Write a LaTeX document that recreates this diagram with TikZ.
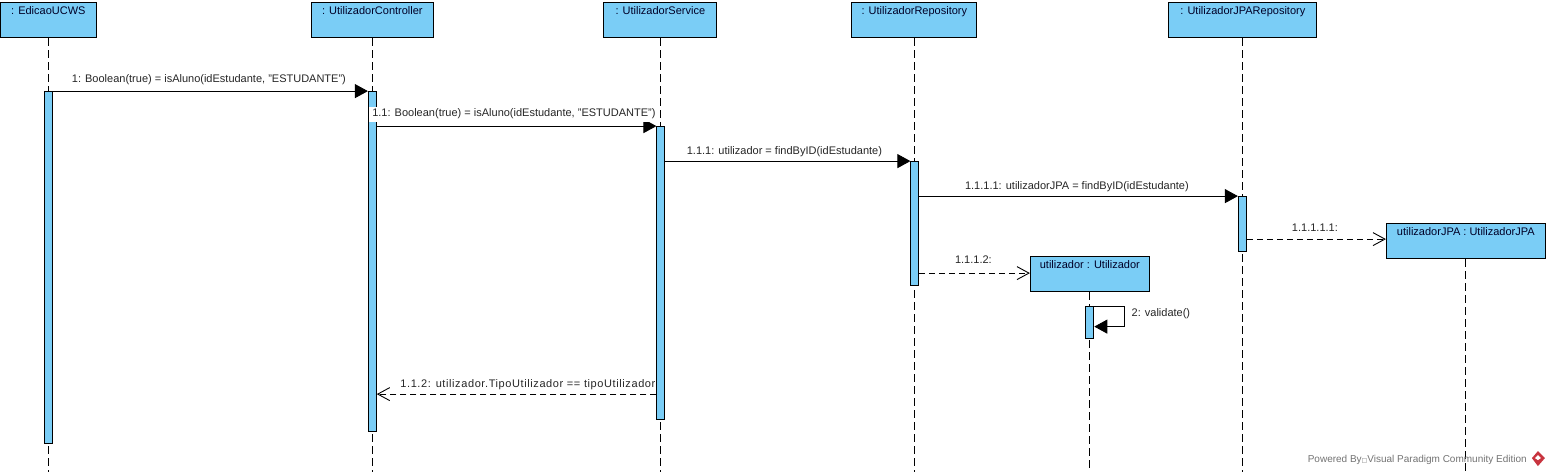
\documentclass[tikz,border=0pt]{standalone}
\usepackage{fontspec}
\setmainfont{Liberation Sans}
\newfontfamily\symfont{DejaVu Sans}
\usetikzlibrary{arrows.meta,calc}
\definecolor{vpblue}{HTML}{7ACDF6}
\definecolor{vpred}{HTML}{C8343F}
\tikzset{
  obj/.style={draw=black,fill=vpblue,line width=0.9pt,anchor=north west,inner xsep=0pt,inner ysep=2pt,text height=10pt,text depth=21pt,font=\fontsize{11pt}{12pt}\selectfont,text=black!85!blue},
  act/.style={draw=black,fill=vpblue,line width=0.9pt,anchor=north west,minimum width=8pt,inner sep=0pt},
  life/.style={line width=0.9pt,dash pattern=on 8pt off 4pt},
  call/.style={line width=0.9pt,-{Triangle[length=13pt,width=14pt]}},
  reply/.style={line width=0.9pt,dash pattern=on 6pt off 4pt,-{Straight Barb[length=12pt,width=13pt]}},
  msg/.style={font=\fontsize{11pt}{12pt}\selectfont,text=black!85,inner sep=1pt,anchor=base}
}
\begin{document}
\begin{tikzpicture}[x=1pt,y=-1pt]
\useasboundingbox[fill=white] (0.6,0.4) rectangle (1550.6,475.4);
% lifeline heads
\node[obj,minimum width=96pt] (o1) at (0.5,2.5) {: EdicaoUCWS};
\node[obj,minimum width=122pt] (o2) at (311.5,2.5) {: UtilizadorController};
\node[obj,minimum width=113pt] (o3) at (604,2.5) {: UtilizadorService};
\node[obj,minimum width=125pt] (o4) at (852,2.5) {: UtilizadorRepository};
\node[obj,minimum width=148pt] (o5) at (1169,2.5) {: UtilizadorJPARepository};
\node[obj,minimum width=119pt] (o6) at (1030.5,256.5) {utilizador : Utilizador};
\node[obj,minimum width=159pt] (o7) at (1386.5,223.5) {utilizadorJPA : UtilizadorJPA};
% lifeline ends
\coordinate (e1) at (48.5,472);
\coordinate (e2) at (372.5,472);
\coordinate (e3) at (660.5,472);
\coordinate (e4) at (915,472);
\coordinate (e5) at (1242.5,472);
\coordinate (e6) at (1089.5,472);
\coordinate (e7) at (1465.5,472);
\foreach \i in {1,...,7} \draw[life] (o\i.south) -- (o\i.south |- e\i);
% activations
\node[act,minimum height=352pt] (a1) at (44.5,91.5) {};
\node[act,minimum height=340pt] (a2) at (368.5,91.5) {};
\node[act,minimum height=293pt] (a3) at (657,126.5) {};
\node[act,minimum height=124pt] (a4) at (911,161.5) {};
\node[act,minimum height=55pt] (a5) at (1238.5,196.5) {};
\node[act,minimum height=32pt] (a6) at (1086,306.5) {};
% messages
\coordinate (m4s) at (1246.5,239.5);
\coordinate (m5s) at (919,273.5);
\coordinate (m6s) at (657,394.5);
\coordinate (m7a) at (1125,306.5);
\coordinate (m7b) at (1125,327);
\draw[call] (a1.north east) -- (a2.north west);
\draw[call] (a2.east |- a3.north west) -- (a3.north west);
\draw[call] (a3.east |- a4.north west) -- (a4.north west);
\draw[call] (a4.east |- a5.north west) -- (a5.north west);
\draw[reply] (a5.east |- m4s) -- (o7.west |- m4s);
\draw[reply] (a4.east |- m5s) -- (o6.west |- m5s);
\draw[call] (a6.north east) -- (m7a) -- (m7b) -- (a6.east |- m7b);
\draw[reply] (a3.west |- m6s) -- (a2.east |- m6s);
% labels
\node[msg] (l1) at (209.5,82.5) {1: Boolean(true) = isAluno(idEstudante, "ESTUDANTE")};
\node[msg,fill=white,inner xsep=3pt,text depth=4pt,text height=9pt] (l2) at (514.5,117) {1.1: Boolean(true) = isAluno(idEstudante, "ESTUDANTE")};
\node[msg] (l3) at (785,154.5) {1.1.1: utilizador = findByID(idEstudante)};
\node[msg] (l4) at (1077.5,189.5) {1.1.1.1: utilizadorJPA = findByID(idEstudante)};
\node[msg] (l5) at (1315.5,231.5) {1.1.1.1.1:};
\node[msg] (l6) at (974,263.5) {1.1.1.2:};
\node[msg] (l7) at (1161.5,316.5) {2: validate()};
\node[msg] (l8) at (528.5,387.5) {\addfontfeature{LetterSpace=5.4}1.1.2: utilizador.TipoUtilizador == tipoUtilizador};
% watermark
\node[anchor=base east,inner sep=0pt,font=\fontsize{10pt}{12pt}\selectfont,text=black!55] (wm) at (1527.5,462.5) {Powered By{\symfont\fontsize{6pt}{6pt}\selectfont □}Visual Paradigm Community Edition};
\fill[vpred] (1538.5,451.5) -- (1545.5,458.5) -- (1538.5,466.5) -- (1532.5,458.5) -- cycle;
\fill[white] (1538.5,455.5) -- (1541.5,458.5) -- (1538.5,460.5) -- (1535.5,458.5) -- cycle;
\end{tikzpicture}
\end{document}
